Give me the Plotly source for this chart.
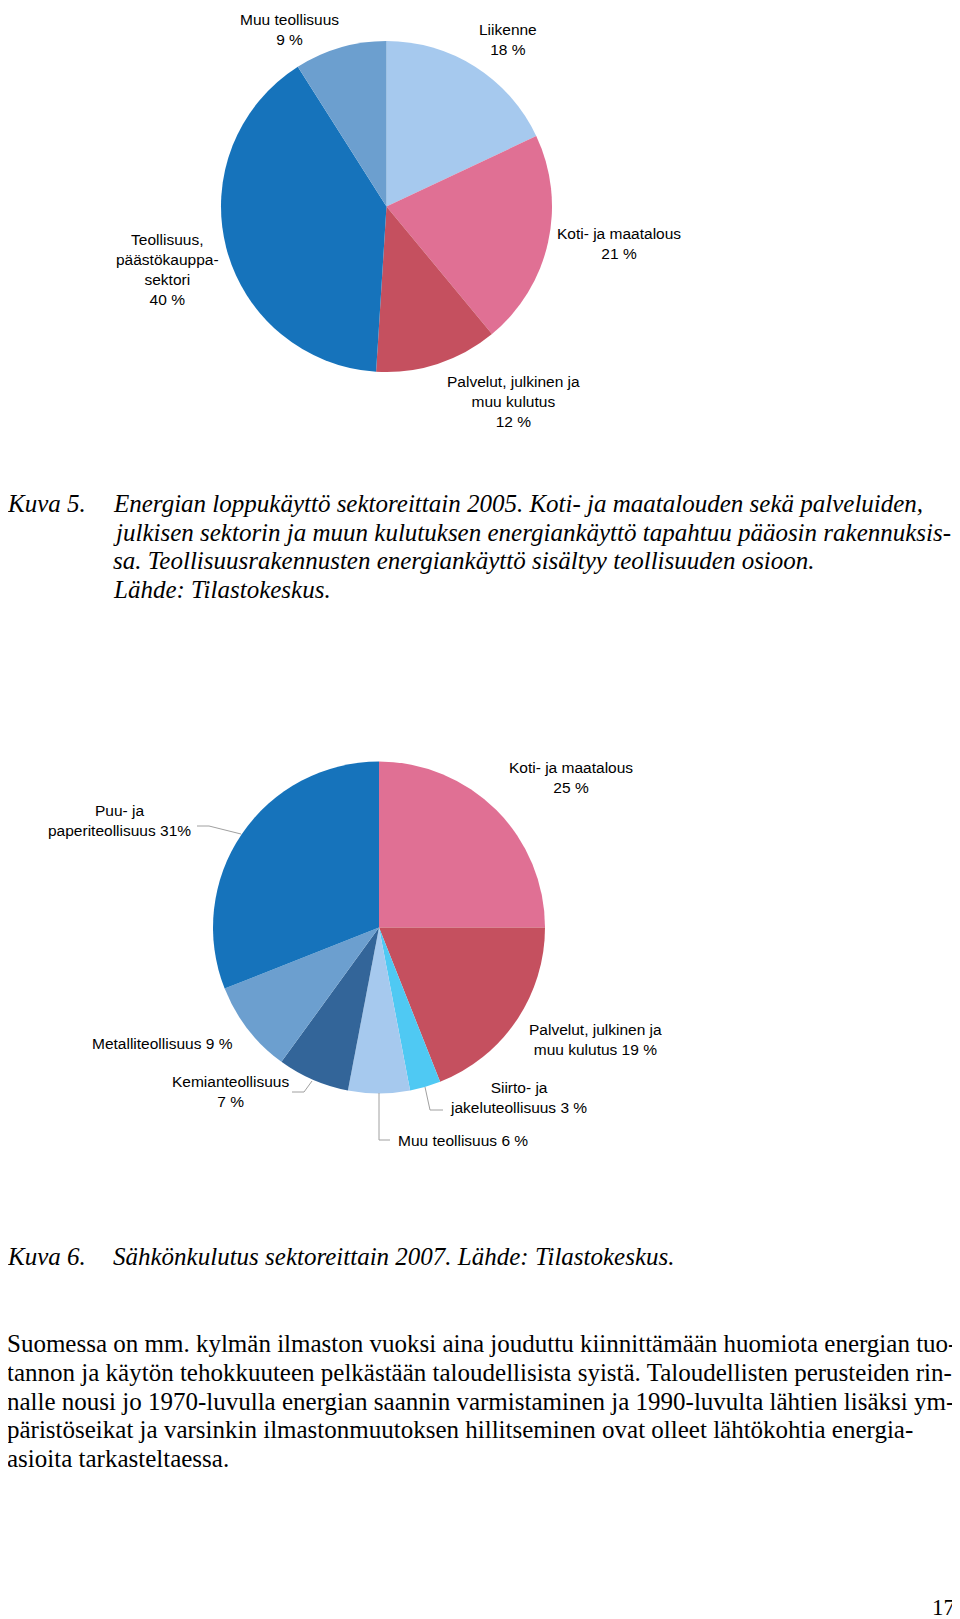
import plotly.graph_objects as go

# Kuva 5: energian loppukäyttö sektoreittain 2005
sektorit_2005 = ['Liikenne', 'Koti- ja maatalous', 'Palvelut, julkinen ja<br>muu kulutus',
                 'Teollisuus,<br>päästökauppa-<br>sektori', 'Muu teollisuus']
osuudet_2005 = [18, 21, 12, 40, 9]
varit_2005 = ['#A6C9EE', '#E07094', '#C5505F', '#1673BB', '#6C9FCF']

# Kuva 6: sähkönkulutus sektoreittain 2007
sektorit_2007 = ['Koti- ja maatalous', 'Palvelut, julkinen ja<br>muu kulutus', 'Siirto- ja<br>jakeluteollisuus',
                 'Muu teollisuus', 'Kemianteollisuus', 'Metalliteollisuus', 'Puu- ja<br>paperiteollisuus']
osuudet_2007 = [25, 19, 3, 6, 7, 9, 31]
varit_2007 = ['#E07094', '#C5505F', '#4FC9F3', '#A6C9EE', '#336599', '#6C9FCF', '#1673BB']

# page body has an 8px margin, so the figure is a bit smaller and shifted
OFF = 8
W, H = 960 - OFF, 1619 - OFF


def px(x):
    return (x - OFF) / W


def py(y):
    return 1 - (y - OFF) / H


fig = go.Figure()
fig.add_trace(go.Pie(
    labels=sektorit_2005, values=osuudet_2005, sort=False, direction='clockwise', rotation=0,
    marker=dict(colors=varit_2005, line=dict(width=0)), textinfo='none', hoverinfo='label+percent',
    domain=dict(x=[px(221), px(552)], y=[py(372), py(41)]), showlegend=False
))
fig.add_trace(go.Pie(
    labels=sektorit_2007, values=osuudet_2007, sort=False, direction='clockwise', rotation=0,
    marker=dict(colors=varit_2007, line=dict(width=0)), textinfo='none', hoverinfo='label+percent',
    domain=dict(x=[px(213), px(545)], y=[py(1094), py(761)]), showlegend=False
))

label_font = dict(family='Liberation Sans, Arial', size=15.5, color='#000000')


def teksti(x, y, t, font, xanchor='center', align='center'):
    fig.add_annotation(x=px(x), y=py(y), xref='paper', yref='paper', showarrow=False,
                       text=t, font=font, xanchor=xanchor, yanchor='middle', align=align)


# label centres in pixels
pos_2005 = [(508, 40), (619, 243), (513, 402), (167, 270), (289, 30)]
for nimi, arvo, (x, y) in zip(sektorit_2005, osuudet_2005, pos_2005):
    teksti(x, y, f'{nimi}<br>{arvo} %', label_font)

teksti_2007 = [
    f'{sektorit_2007[0]}<br>{osuudet_2007[0]} %',
    f'{sektorit_2007[1]} {osuudet_2007[1]} %',
    f'{sektorit_2007[2]} {osuudet_2007[2]} %',
    f'{sektorit_2007[3]} {osuudet_2007[3]} %',
    f'{sektorit_2007[4]}<br>{osuudet_2007[4]} %',
    f'{sektorit_2007[5]} {osuudet_2007[5]} %',
    f'{sektorit_2007[6]} {osuudet_2007[6]}%',
]
pos_2007 = [(571, 777), (595, 1039), (518, 1097), (463, 1140), (230, 1091), (162, 1043), (119, 820)]
for t, (x, y) in zip(teksti_2007, pos_2007):
    teksti(x, y, t, label_font)

# leader lines
leaders = [
    [(197, 826), (209, 826), (241, 834)],
    [(292, 1092), (304, 1092), (312, 1081)],
    [(425, 1087), (430, 1110), (443, 1110)],
    [(379, 1093), (379, 1140), (390, 1140)],
]
for pts in leaders:
    path = 'M ' + ' L '.join(f'{px(x)},{py(y)}' for x, y in pts)
    fig.add_shape(type='path', path=path, xref='paper', yref='paper',
                  line=dict(color='#A0A0A0', width=1))

cap_font = dict(family='Liberation Serif, Times New Roman', size=25, color='#000000', style='italic')
kuva5 = [
    'Energian loppukäyttö sektoreittain 2005. Koti- ja maatalouden sekä palveluiden,',
    'julkisen sektorin ja muun kulutuksen energiankäyttö tapahtuu pääosin rakennuksis-',
    'sa. Teollisuusrakennusten energiankäyttö sisältyy teollisuuden osioon.',
    'Lähde: Tilastokeskus.',
]
kuva5_y = [503, 532, 560, 589]
teksti(5, 503, 'Kuva 5.', cap_font, xanchor='left', align='left')
for t, y in zip(kuva5, kuva5_y):
    teksti(111, y, t, cap_font, xanchor='left', align='left')

teksti(5, 1256, 'Kuva 6.', cap_font, xanchor='left', align='left')
teksti(111, 1256, 'Sähkönkulutus sektoreittain 2007. Lähde: Tilastokeskus.', cap_font,
       xanchor='left', align='left')

body_font = dict(family='Liberation Serif, Times New Roman', size=25, color='#000000')
body = [
    'Suomessa on mm. kylmän ilmaston vuoksi aina jouduttu kiinnittämään huomiota energian tuo-',
    'tannon ja käytön tehokkuuteen pelkästään taloudellisista syistä. Taloudellisten perusteiden rin-',
    'nalle nousi jo 1970-luvulla energian saannin varmistaminen ja 1990-luvulta lähtien lisäksi ym-',
    'päristöseikat ja varsinkin ilmastonmuutoksen hillitseminen ovat olleet lähtökohtia energia-',
    'asioita tarkasteltaessa.',
]
body_y = [1343, 1372, 1401, 1429, 1458]
for t, y in zip(body, body_y):
    teksti(5, y, t, body_font, xanchor='left', align='left')

teksti(957, 1607, '17', dict(family='Liberation Serif, Times New Roman', size=23, color='#000000'),
       xanchor='right', align='right')

fig.update_layout(width=W, height=H, margin=dict(l=0, r=0, t=0, b=0),
                  paper_bgcolor='white', plot_bgcolor='white')

fig.write_html('out.html')
